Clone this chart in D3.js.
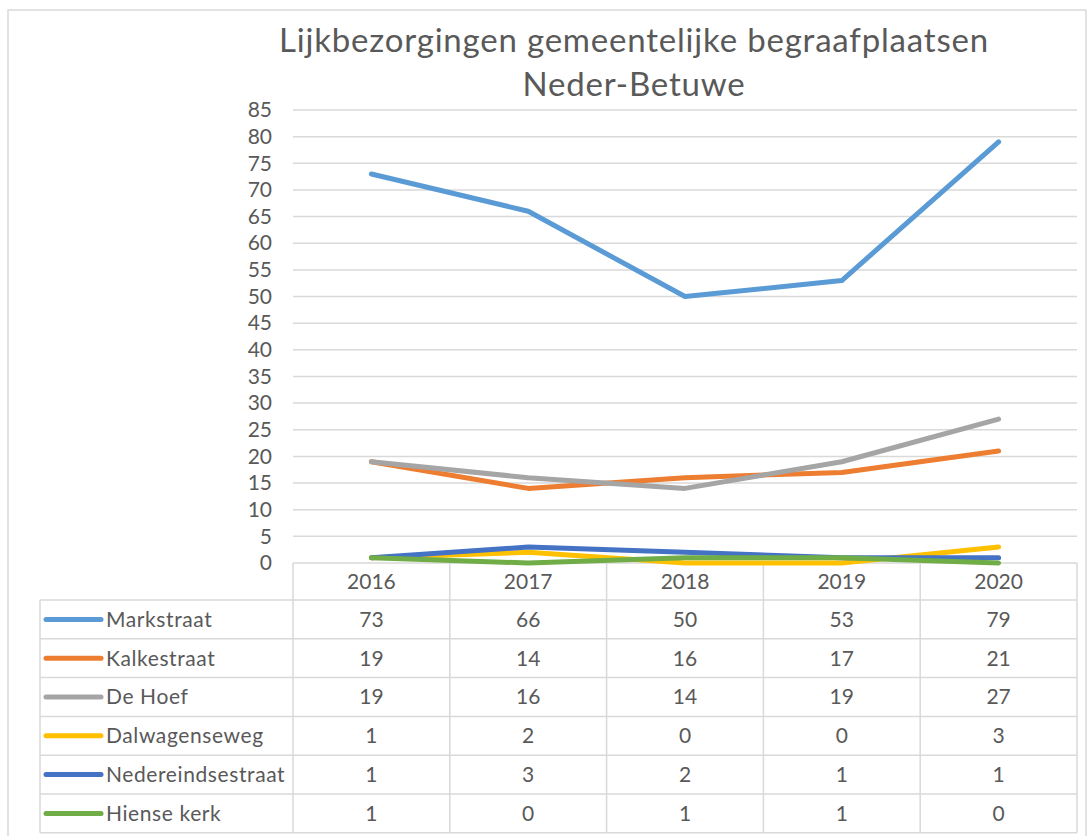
<!DOCTYPE html>
<html>
<head>
<meta charset="utf-8">
<script src="https://cdn.jsdelivr.net/npm/d3@7"></script>
<style>
  body { margin: 0; background: #fff; }
  text { font-family: Lato, "Open Sans", sans-serif; fill: #595959; }
</style>
</head>
<body>
<div id="chart"></div>
<script>
var years = ["2016", "2017", "2018", "2019", "2020"];
var seriesNames = ["Markstraat", "Kalkestraat", "De Hoef", "Dalwagenseweg", "Nedereindsestraat", "Hiense kerk"];
var markstraat = [73, 66, 50, 53, 79];
var kalkestraat = [19, 14, 16, 17, 21];
var deHoef = [19, 16, 14, 19, 27];
var dalwagenseweg = [1, 2, 0, 0, 3];
var nedereindsestraat = [1, 3, 2, 1, 1];
var hienseKerk = [1, 0, 1, 1, 0];
var yTicks = [0, 5, 10, 15, 20, 25, 30, 35, 40, 45, 50, 55, 60, 65, 70, 75, 80, 85];
var colors = ["#5B9BD5", "#ED7D31", "#A5A5A5", "#FFC000", "#4472C4", "#70AD47"];

var width = 1088, height = 836;
var plotLeft = 293, plotRight = 1077, plotTop = 110, plotBottom = 563;
var headerBottom = 600, tableLeft = 40, rowHeight = 38.8;

var allValues = [markstraat, kalkestraat, deHoef, dalwagenseweg, nedereindsestraat, hienseKerk];
var series = seriesNames.map(function (name, i) {
	return { name: name, values: allValues[i], color: colors[i] };
});

var svg = d3.select("#chart").append("svg")
	.attr("width", width)
	.attr("height", height);

// outer chart frame
svg.append("rect")
	.attr("x", 8).attr("y", 10)
	.attr("width", 1078).attr("height", 840)
	.attr("fill", "#fff")
	.attr("stroke", "#D9D9D9")
	.attr("stroke-width", 1.5);

var x = d3.scaleBand().domain(years).range([plotLeft, plotRight]);
var y = d3.scaleLinear().domain([0, 85]).range([plotBottom, plotTop]);

// title
svg.append("text")
	.attr("x", 634).attr("y", 52)
	.attr("text-anchor", "middle")
	.style("font-size", "33px")
	.style("letter-spacing", "0.8px")
	.text("Lijkbezorgingen gemeentelijke begraafplaatsen");
svg.append("text")
	.attr("x", 634).attr("y", 96)
	.attr("text-anchor", "middle")
	.style("font-size", "33px")
	.style("letter-spacing", "0.8px")
	.text("Neder-Betuwe");

// gridlines
svg.append("g").selectAll("line")
	.data(yTicks.filter(function (d) { return d > 0; }))
	.enter().append("line")
	.attr("x1", plotLeft).attr("x2", plotRight)
	.attr("y1", function (d) { return y(d); })
	.attr("y2", function (d) { return y(d); })
	.attr("stroke", "#D9D9D9")
	.attr("stroke-width", 1.5);

// y axis labels
var yAxis = d3.axisLeft(y).tickValues(yTicks).tickSize(0).tickPadding(21);
var yAxisG = svg.append("g")
	.attr("transform", "translate(" + plotLeft + ",0)")
	.call(yAxis);
yAxisG.select(".domain").remove();
yAxisG.selectAll("text")
	.style("font-family", "Lato, sans-serif")
	.style("font-size", "21px")
	.attr("fill", "#595959");

// data table grid
var rowY = function (i) { return headerBottom + i * rowHeight; };
var tableBottom = rowY(seriesNames.length);
var grid = svg.append("g")
	.attr("stroke", "#D9D9D9")
	.attr("stroke-width", 1.5);
grid.append("line")
	.attr("x1", plotLeft).attr("x2", plotRight)
	.attr("y1", plotBottom).attr("y2", plotBottom);
grid.selectAll(".hline")
	.data(d3.range(seriesNames.length + 1))
	.enter().append("line")
	.attr("x1", tableLeft).attr("x2", plotRight)
	.attr("y1", function (i) { return rowY(i); })
	.attr("y2", function (i) { return rowY(i); });
grid.selectAll(".vline")
	.data(years.concat(["end"]))
	.enter().append("line")
	.attr("x1", function (d) { return d === "end" ? plotRight : x(d); })
	.attr("x2", function (d) { return d === "end" ? plotRight : x(d); })
	.attr("y1", plotBottom)
	.attr("y2", tableBottom);
grid.append("line")
	.attr("x1", tableLeft).attr("x2", tableLeft)
	.attr("y1", headerBottom).attr("y2", tableBottom);

// year header
svg.append("g").selectAll("text")
	.data(years)
	.enter().append("text")
	.attr("x", function (d) { return x(d) + x.bandwidth() / 2; })
	.attr("y", (plotBottom + headerBottom) / 2)
	.attr("dy", "0.35em")
	.attr("text-anchor", "middle")
	.style("font-size", "21px")
	.text(function (d) { return d; });

// table rows
var rowG = svg.append("g").selectAll("g")
	.data(series)
	.enter().append("g")
	.attr("transform", function (d, i) { return "translate(0," + (rowY(i) + rowHeight / 2) + ")"; });
rowG.append("line")
	.attr("x1", 46).attr("x2", 101)
	.attr("stroke", function (d) { return d.color; })
	.attr("stroke-width", 5)
	.attr("stroke-linecap", "round");
rowG.append("text")
	.attr("x", 106)
	.attr("dy", "0.35em")
	.style("font-size", "21px")
	.style("letter-spacing", "0.6px")
	.text(function (d) { return d.name; });
rowG.selectAll(".val")
	.data(function (d) { return d.values; })
	.enter().append("text")
	.attr("x", function (d, i) { return x(years[i]) + x.bandwidth() / 2; })
	.attr("dy", "0.35em")
	.attr("text-anchor", "middle")
	.style("font-size", "21px")
	.text(function (d) { return d; });

// lines
var line = d3.line()
	.x(function (d, i) { return x(years[i]) + x.bandwidth() / 2; })
	.y(function (d) { return y(d); });
svg.append("g").selectAll("path")
	.data(series)
	.enter().append("path")
	.attr("d", function (d) { return line(d.values); })
	.attr("fill", "none")
	.attr("stroke", function (d) { return d.color; })
	.attr("stroke-width", 5)
	.attr("stroke-linecap", "round")
	.attr("stroke-linejoin", "round");
</script>
</body>
</html>
